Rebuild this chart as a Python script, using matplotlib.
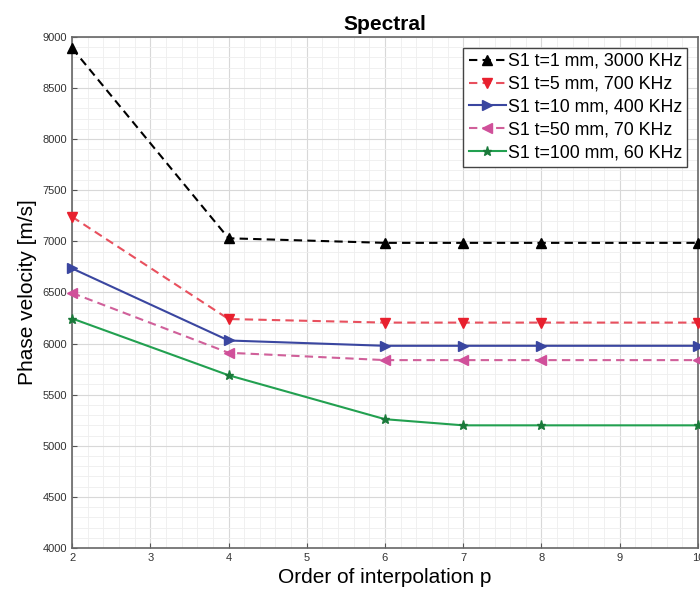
import numpy as np
import matplotlib.pyplot as plt
from matplotlib.ticker import MultipleLocator

# Data
order = [2, 4, 6, 7, 8, 10]
v_1mm = [8890, 7030, 6985, 6985, 6985, 6985]
v_5mm = [7240, 6240, 6205, 6205, 6205, 6205]
v_10mm = [6735, 6030, 5978, 5978, 5978, 5978]
v_50mm = [6495, 5910, 5838, 5838, 5838, 5838]
v_100mm = [6245, 5690, 5260, 5200, 5200, 5200]

labels = ["S1 t=1 mm, 3000 KHz", "S1 t=5 mm, 700 KHz", "S1 t=10 mm, 400 KHz",
          "S1 t=50 mm, 70 KHz", "S1 t=100 mm, 60 KHz"]

plt.rcParams['font.family'] = ['Liberation Sans', 'DejaVu Sans']

fig = plt.figure(figsize=(7, 5.95), dpi=100)
ax = fig.add_axes([0.103, 0.079, 0.894, 0.859])

dash = (0, (4, 2.5))
kw = dict(lw=1.5, ms=6.5, clip_on=False, zorder=3)
ax.plot(order, v_1mm, marker="^", ls=dash, color="black", label=labels[0], **kw)
ax.plot(order, v_5mm, marker="v", ls=dash, color="#e8505e", mfc="#e8202e", mec="#e8202e", label=labels[1], **kw)
ax.plot(order, v_10mm, marker=">", ls="-", color="#3a46a0", label=labels[2], **kw)
ax.plot(order, v_50mm, marker="<", ls=dash, color="#d0609a", mfc="#d0509a", mec="#d0509a", label=labels[3], **kw)
ax.plot(order, v_100mm, marker="*", ls="-", color="#22a050", mfc="#1a7a3a", mec="#1a7a3a", label=labels[4], **kw)

ax.set_xlim(2, 10)
ax.set_ylim(4000, 9000)
ax.xaxis.set_major_locator(MultipleLocator(1))
ax.xaxis.set_minor_locator(MultipleLocator(0.2))
ax.yaxis.set_major_locator(MultipleLocator(500))
ax.yaxis.set_minor_locator(MultipleLocator(100))
ax.grid(True, which="major", color="#d8d8d8", lw=0.8)
ax.grid(True, which="minor", color="#eeeeee", lw=0.6)
ax.tick_params(which="both", direction="in", labelsize=8, labelcolor="#333333", color="#555555")
ax.tick_params(which="minor", length=0)
for s in ax.spines.values():
    s.set_color("#666666")
    s.set_linewidth(1.2)

ax.set_title("Spectral", fontsize=15, fontweight="bold", pad=5)
ax.set_xlabel("Order of interpolation p", fontsize=15, labelpad=4)
ax.set_ylabel("Phase velocity [m/s]", fontsize=15, labelpad=4)

leg = ax.legend(loc="upper right", fontsize=12.8, fancybox=False, framealpha=1,
                edgecolor="#444444", handlelength=2.1, handletextpad=0.1,
                borderpad=0.3, labelspacing=0.33, borderaxespad=0.6)
leg.get_frame().set_linewidth(1.0)

fig.savefig("out.png", dpi=100)
